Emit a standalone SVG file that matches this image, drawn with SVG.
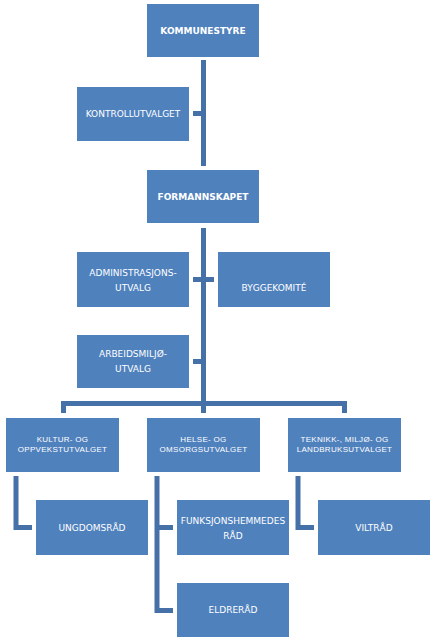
<svg xmlns="http://www.w3.org/2000/svg" width="438" height="641" viewBox="0 0 438 641">
<style>
.box{fill:#4F81BD}
.t{fill:#fff;font-family:"DejaVu Sans",Verdana,sans-serif;font-size:9px;text-anchor:middle}
.b{font-weight:bold}
.s{font-family:"Liberation Sans",Arial,sans-serif;font-size:8px;letter-spacing:0.3px}
.c{fill:none;stroke:#4670A8;stroke-width:5;stroke-linecap:butt}
</style>
<rect width="438" height="641" fill="#fff"/>
<g id="connectors">
<path class="c" d="M203.5 60V166M203.5 228V413"/>
<path class="c" d="M193 113.5H203.5"/>
<path class="c" d="M193 279.5H214"/>
<path class="c" d="M193 361.5H203.5"/>
<path class="c" d="M63.5 413V403.5H344.5V413"/>
<path class="c" d="M16 476V527.5H32"/>
<path class="c" d="M157 476V610.5H173M157 527.5H173"/>
<path class="c" d="M298 476V527.5H314"/>
</g>
<g id="kommunestyre"><rect class="box" x="147" y="4" width="112" height="53"/><text class="t b" x="203" y="33.5">KOMMUNESTYRE</text></g>
<g id="kontrollutvalget"><rect class="box" x="77" y="87" width="112" height="54"/><text class="t" x="133" y="117">KONTROLLUTVALGET</text></g>
<g id="formannskapet"><rect class="box" x="147" y="170" width="112" height="53"/><text class="t b" x="203" y="199.5">FORMANNSKAPET</text></g>
<g id="administrasjonsutvalg"><rect class="box" x="77" y="252" width="112" height="55"/><text class="t" x="133" y="275.5">ADMINISTRASJONS-</text><text class="t" x="133" y="290.5">UTVALG</text></g>
<g id="byggekomite"><rect class="box" x="218" y="252" width="112" height="55"/><text class="t" x="274" y="290.5">BYGGEKOMITÉ</text></g>
<g id="arbeidsmiljoutvalg"><rect class="box" x="77" y="335" width="112" height="53"/><text class="t" x="133" y="357">ARBEIDSMILJØ-</text><text class="t" x="133" y="372">UTVALG</text></g>
<g id="kultur"><rect class="box" x="6" y="418" width="113" height="54"/><text class="t s" x="62.5" y="442">KULTUR- OG</text><text class="t s" x="62.5" y="452">OPPVEKSTUTVALGET</text></g>
<g id="helse"><rect class="box" x="147" y="418" width="113" height="54"/><text class="t s" x="203.5" y="442">HELSE- OG</text><text class="t s" x="203.5" y="452">OMSORGSUTVALGET</text></g>
<g id="teknikk"><rect class="box" x="288" y="418" width="113" height="54"/><text class="t s" x="344.5" y="442">TEKNIKK-, MILJØ- OG</text><text class="t s" x="344.5" y="452">LANDBRUKSUTVALGET</text></g>
<g id="ungdomsrad"><rect class="box" x="36" y="500" width="112" height="55"/><text class="t" x="92" y="530.5">UNGDOMSRÅD</text></g>
<g id="funksjonshemmedes"><rect class="box" x="177" y="500" width="112" height="55"/><text class="t" x="233" y="523.5">FUNKSJONSHEMMEDES</text><text class="t" x="233" y="538.5">RÅD</text></g>
<g id="viltrad"><rect class="box" x="318" y="500" width="112" height="55"/><text class="t" x="374" y="530.5">VILTRÅD</text></g>
<g id="eldrerad"><rect class="box" x="177" y="583" width="112" height="54"/><text class="t" x="233" y="613">ELDRERÅD</text></g>
</svg>
